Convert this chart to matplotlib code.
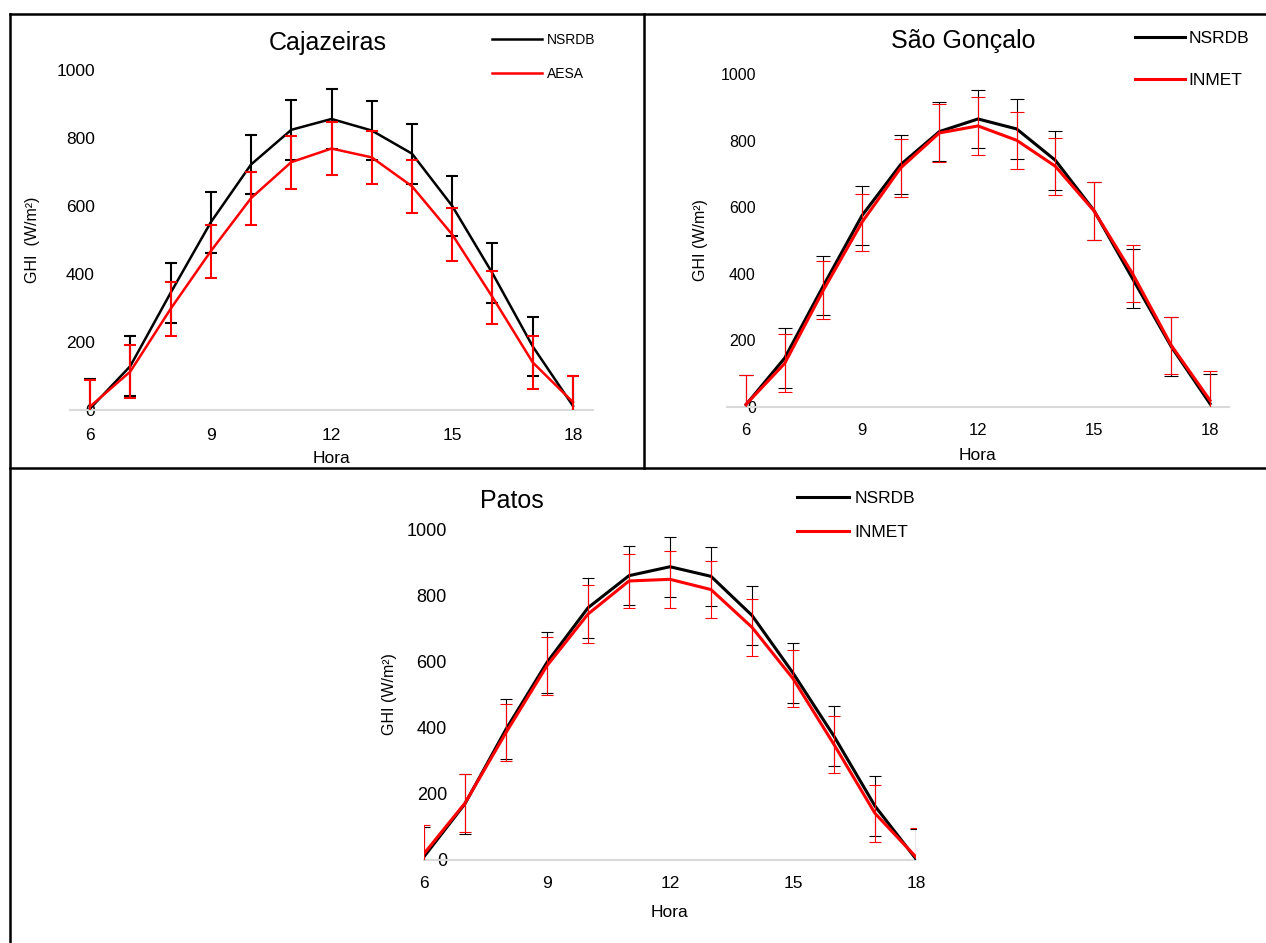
import matplotlib
matplotlib.use('Agg')
import matplotlib.pyplot as plt
from matplotlib.lines import Line2D

plt.rcParams['font.family'] = ['Liberation Sans', 'DejaVu Sans']

W, H = 1266, 943

horas = [6, 7, 8, 9, 10, 11, 12, 13, 14, 15, 16, 17, 18]
xticks = [6, 9, 12, 15, 18]
yticks = [0, 200, 400, 600, 800, 1000]

# Cajazeiras
caj_nsrdb = [4, 129, 344, 552, 722, 824, 856, 822, 754, 600, 402, 187, 12]
caj_nsrdb_err = [88, 88, 87, 89, 88, 88, 87, 88, 88, 88, 88, 87, 88]
caj_aesa = [10, 113, 297, 467, 623, 729, 769, 743, 658, 516, 332, 140, 23]
caj_aesa_err = [78, 77, 78, 78, 78, 78, 78, 78, 78, 78, 78, 78, 78]

# Sao Goncalo
sg_nsrdb = [7, 147, 364, 575, 728, 827, 865, 835, 741, 590, 385, 181, 10]
sg_nsrdb_err = [88, 89, 88, 88, 88, 88, 88, 89, 88, 87, 89, 88, 88]
sg_inmet = [8, 131, 351, 555, 718, 823, 844, 801, 723, 589, 400, 185, 20]
sg_inmet_err = [87, 87, 86, 86, 86, 86, 86, 86, 86, 86, 86, 86, 88]

# Patos
pat_nsrdb = [10, 170, 395, 597, 762, 859, 886, 857, 739, 565, 374, 163, 3]
pat_nsrdb_err = [90, 91, 91, 91, 90, 90, 90, 90, 90, 90, 91, 90, 90]
pat_inmet = [19, 172, 385, 587, 743, 843, 848, 817, 703, 548, 349, 141, 9]
pat_inmet_err = [87, 87, 86, 87, 87, 81, 87, 87, 87, 87, 87, 87, 87]


def box(l, t, r, b):
    # pixel box -> figure fraction rect
    return [l / W, 1 - b / H, (r - l) / W, (b - t) / H]


def panel(ax, title, ref, ref_err, other, other_err, other_name, s):
    ax.plot(horas, ref, color='black', lw=s['lw'], label='NSRDB', zorder=3)
    ax.errorbar(horas, ref, yerr=ref_err, fmt='none', ecolor='black',
                elinewidth=s['elw'], capsize=s['cap'], capthick=s['elw'], zorder=3)
    ax.plot(horas, other, color='#ff0000', lw=s['lw'], label=other_name, zorder=4)
    ax.errorbar(horas, other, yerr=other_err, fmt='none', ecolor='#ff0000',
                elinewidth=s['elw'], capsize=s['cap'], capthick=s['elw'], zorder=4)

    ax.set_xlim(s['xlim'])
    ax.set_ylim(0, 1000)
    ax.set_xticks(xticks)
    ax.set_yticks(yticks)
    for side in ['top', 'right', 'left']:
        ax.spines[side].set_visible(False)
    ax.spines['bottom'].set_color('#d9d9d9')
    ax.spines['bottom'].set_linewidth(1.5)
    ax.tick_params(axis='x', length=0, pad=s['xpad'], labelsize=s['tick'])
    ax.tick_params(axis='y', length=0, pad=s['ypad'], labelsize=s['ytick'])

    ax.set_title(title, fontsize=18, x=s['tx'], y=s['ty'], va='baseline', pad=0)
    ax.set_xlabel('Hora', fontsize=12.5, va='top')
    ax.xaxis.set_label_coords(0.5, s['xl'])
    ax.set_ylabel(s['ylabel'], fontsize=11.5, va='center')
    ax.yaxis.set_label_coords(s['yl'], 0.5)

    ax.legend(loc='upper left', bbox_to_anchor=s['leg'], bbox_transform=fig.transFigure,
              frameon=False, fontsize=s['legfs'], borderpad=0, borderaxespad=0,
              handlelength=s['hl'], handletextpad=s['htp'], labelspacing=s['ls'])


fig = plt.figure(figsize=(W / 100, H / 100), dpi=100)

ax1 = fig.add_axes(box(69.9, 70, 593.1, 410))
panel(ax1, 'Cajazeiras', caj_nsrdb, caj_nsrdb_err, caj_aesa, caj_aesa_err, 'AESA',
      dict(lw=1.8, elw=1.5, cap=4, xlim=(5.5, 18.5), xpad=13, tick=12.5, ytick=12.5,
           ypad=-18, tx=0.493, ty=1.059, xl=-0.121, yl=-0.071, ylabel='GHI  (W/m²)',
           leg=(492 / W, 1 - 33 / H), legfs=10, hl=3.6, htp=0.36, ls=1.45))

ax2 = fig.add_axes(box(726.7, 74, 1229.3, 407))
panel(ax2, 'São Gonçalo', sg_nsrdb, sg_nsrdb_err, sg_inmet, sg_inmet_err, 'INMET',
      dict(lw=2.2, elw=0.8, cap=4.7, xlim=(5.5, 18.5), xpad=11.5, tick=12, ytick=11.5,
           ypad=-21, tx=0.470, ty=1.078, xl=-0.123, yl=-0.053, ylabel='GHI (W/m²)',
           leg=(1135 / W, 1 - 31 / H), legfs=12.5, hl=2.9, htp=0.2, ls=1.55))

ax3 = fig.add_axes(box(424, 529, 916, 860))
panel(ax3, 'Patos', pat_nsrdb, pat_nsrdb_err, pat_inmet, pat_inmet_err, 'INMET',
      dict(lw=2.2, elw=0.8, cap=4.5, xlim=(6, 18), xpad=11.5, tick=12.5, ytick=13,
           ypad=-16.5, tx=0.179, ty=1.063, xl=-0.136, yl=-0.071, ylabel='GHI (W/m²)',
           leg=(797 / W, 1 - 491 / H), legfs=12.5, hl=3.0, htp=0.3, ls=1.1))

# table-like frame around the panels
frame = [((9.5, 9.5), (14, 943)), ((9.5, 1266), (14, 14)),
         ((9.5, 1266), (468, 468)), ((644, 644), (14, 468))]
for xs, ys in frame:
    fig.add_artist(Line2D([x / W for x in xs], [1 - y / H for y in ys],
                          color='black', lw=1.8, transform=fig.transFigure))

fig.savefig('out.png', dpi=100)
